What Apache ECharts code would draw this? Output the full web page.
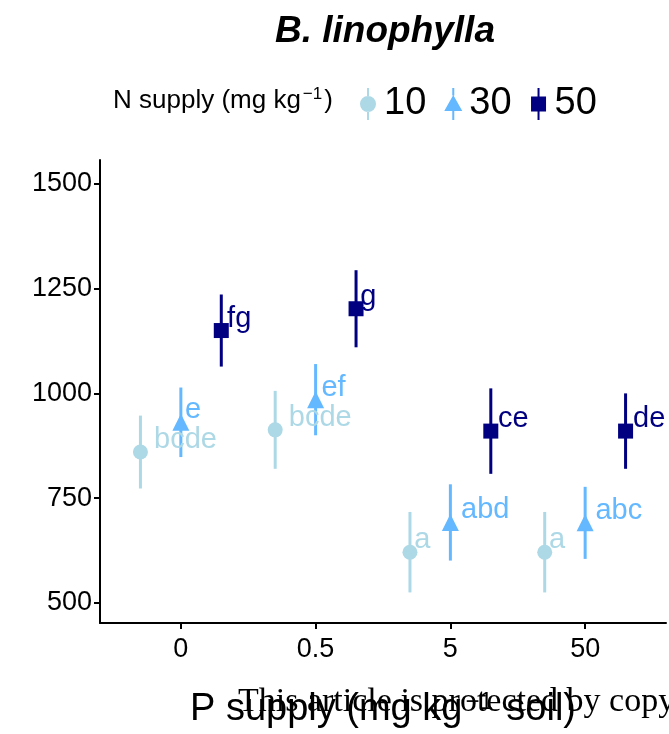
<!DOCTYPE html>
<html>
<head>
<meta charset="utf-8">
<script src="https://cdn.jsdelivr.net/npm/echarts@6/dist/echarts.min.js"></script>
<style>
  html, body { margin: 0; padding: 0; background: #fff; }
  #chart { width: 669px; height: 734px; }
</style>
</head>
<body>
<div id="chart"></div>
<script>
// P supply levels (x categories) and N supply groups
const pLevels = ['0', '0.5', '5', '50'];
const nLevels = ['10', '30', '50'];

// Group means and standard errors per P level
const mean10 = [860, 913, 621, 621];
const se10   = [87, 93, 96, 96];
const mean30 = [931, 985, 692, 691];
const se30   = [83, 85, 91, 86];
const mean50 = [1150, 1202, 910, 910];
const se50   = [86, 92, 102, 90];

// Significance letters
const letters10 = ['bcde', 'bcde', 'a', 'a'];
const letters30 = ['e', 'ef', 'abd', 'abc'];
const letters50 = ['fg', 'g', 'ce', 'de'];

// Y-axis tick values
const yTicks = [500, 750, 1000, 1250, 1500];

const FONT = '"Liberation Sans", Arial, Helvetica, sans-serif';
const LABEL_SIZE = 29;
const TICK_SIZE = 27;
const colors = { '10': '#ADD8E6', '30': '#63B8FF', '50': '#000080' };
const dodge = { '10': -0.3, '30': 0, '50': 0.3 };
const symbols = { '10': 'circle', '30': 'triangle', '50': 'rect' };
const symbolSizes = { '10': 15, '30': 17, '50': 15 };

const groups = {
  '10': { mean: mean10, se: se10, letters: letters10 },
  '30': { mean: mean30, se: se30, letters: letters30 },
  '50': { mean: mean50, se: se50, letters: letters50 }
};

// text width helper for label placement (left edge nudged by a share of the width)
const measureCtx = document.createElement('canvas').getContext('2d');
measureCtx.font = LABEL_SIZE + 'px ' + FONT;
function textWidth(s) { return measureCtx.measureText(s).width; }

const series = [];
nLevels.forEach(function (n) {
  const g = groups[n];
  series.push({
    name: n + ' se',
    type: 'custom',
    z: 1,
    encode: { x: 0, y: [1, 2] },
    data: pLevels.map(function (_, i) {
      return [i + 1 + dodge[n], g.mean[i] - g.se[i], g.mean[i] + g.se[i]];
    }),
    renderItem: function (params, api) {
      const x = api.value(0);
      const p1 = api.coord([x, api.value(1)]);
      const p2 = api.coord([x, api.value(2)]);
      return {
        type: 'line',
        shape: { x1: p1[0], y1: p1[1], x2: p2[0], y2: p2[1] },
        style: { stroke: colors[n], lineWidth: 3 }
      };
    },
    silent: true
  });
});
nLevels.forEach(function (n) {
  const g = groups[n];
  const half = symbolSizes[n] / 2;
  series.push({
    name: n,
    type: 'scatter',
    z: 2,
    symbol: symbols[n],
    symbolSize: symbolSizes[n],
    itemStyle: { color: colors[n], opacity: 1 },
    data: pLevels.map(function (_, i) {
      const w = textWidth(g.letters[i]);
      return {
        value: [i + 1 + dodge[n], g.mean[i]],
        label: {
          show: true,
          position: 'right',
          distance: 0,
          offset: [0.2 * w - half + 1, -12],
          formatter: g.letters[i],
          color: colors[n],
          fontSize: LABEL_SIZE,
          fontFamily: FONT
        }
      };
    })
  });
});

// legend icons: key symbol with a vertical bar through it (18 x 32 box)
const legendIcons = {
  '10': 'path://M8,0H10V8.2H8Z M8,23.8H10V32H8Z M1,16A8,8 0 1 0 17,16A8,8 0 1 0 1,16Z M0,16H0.01Z M18,16H17.99Z',
  '30': 'path://M8,0H10V7.5H8Z M8,23H10V32H8Z M9,7L18,23L0,23Z',
  '50': 'path://M8,0H10V8.5H8Z M8,23.5H10V32H8Z M1.5,8.5H16.5V23.5H1.5Z M0,16H0.01Z M18,16H17.99Z'
};

const chart = echarts.init(document.getElementById('chart'), null, { renderer: 'canvas' });
chart.setOption({
  animation: false,
  backgroundColor: '#ffffff',
  grid: { left: 100, right: 3, top: 160, bottom: 110, containLabel: false },
  legend: {
    left: 354,
    top: 80,
    itemWidth: 18,
    itemHeight: 32,
    itemGap: 18,
    selectedMode: false,
    textStyle: { fontSize: 38, color: '#000', fontFamily: FONT, padding: [0, 0, 0, 2] },
    data: nLevels.map(function (n) {
      return { name: n, icon: legendIcons[n], itemStyle: { color: colors[n] } };
    })
  },
  xAxis: {
    type: 'value',
    min: 0.4,
    max: 4.6,
    splitLine: { show: false },
    axisLine: { show: true, onZero: false, lineStyle: { color: '#000', width: 2 } },
    axisTick: { show: true, length: 6, lineStyle: { color: '#000', width: 2 }, customValues: [1, 2, 3, 4] },
    axisLabel: {
      customValues: [1, 2, 3, 4],
      formatter: function (v) { return pLevels[Math.round(v) - 1]; },
      fontSize: TICK_SIZE, color: '#000', fontFamily: FONT, margin: 13
    },
    name: 'P supply (mg kg{sup|−1} soil)',
    nameLocation: 'middle',
    nameGap: 67,
    nameTextStyle: {
      fontSize: 38, color: '#000', fontFamily: FONT,
      rich: { sup: { fontSize: 24, verticalAlign: 'top', color: '#000', fontFamily: FONT, padding: [0, 3, 16, 3] } }
    }
  },
  yAxis: {
    type: 'value',
    min: 452,
    max: 1557,
    splitLine: { show: false },
    axisLine: { show: true, onZero: false, lineStyle: { color: '#000', width: 2 } },
    axisTick: { show: true, length: 6, lineStyle: { color: '#000', width: 2 }, customValues: yTicks },
    axisLabel: {
      customValues: yTicks,
      formatter: function (v) { return String(v); },
      fontSize: TICK_SIZE, color: '#000', fontFamily: FONT, margin: 8
    }
  },
  series: series,
  graphic: [
    {
      type: 'text',
      x: 385,
      y: 32,
      style: {
        text: 'B. linophylla',
        font: 'italic bold 37px ' + FONT,
        fill: '#000',
        textAlign: 'center',
        textVerticalAlign: 'middle'
      }
    },
    {
      type: 'text',
      x: 113,
      y: 101,
      style: {
        text: 'N supply (mg kg{sup|−1})',
        fontSize: 26,
        fontFamily: FONT,
        fill: '#000',
        verticalAlign: 'middle',
        rich: { sup: { fontSize: 17, padding: [0, 2, 13, 2], fontFamily: FONT } }
      }
    },
    {
      type: 'text',
      x: 238,
      y: 702,
      z: 100,
      style: {
        text: 'This article is protected by copyright. All rights reserved.',
        font: '34px "Liberation Serif", "Times New Roman", serif',
        fill: '#000',
        textVerticalAlign: 'middle'
      }
    }
  ]
});
</script>
</body>
</html>
